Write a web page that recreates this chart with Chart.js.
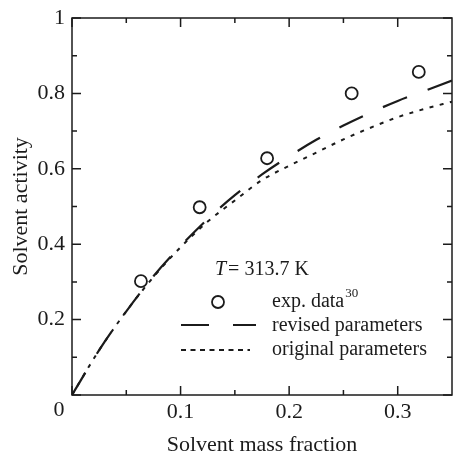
<!DOCTYPE html>
<html>
<head>
<meta charset="utf-8">
<title>Solvent activity</title>
<script src="https://cdn.jsdelivr.net/npm/chart.js@4.4.0/dist/chart.umd.min.js"></script>
<style>
  body { margin: 0; background: #fff; }
  #box { width: 453px; height: 454px; }
</style>
</head>
<body>
<div id="box"><canvas id="grafico"></canvas></div>
<script>
// curve values
var massFraction = [0, 0.025, 0.05, 0.075, 0.1, 0.125, 0.15, 0.175, 0.2, 0.225, 0.25, 0.275, 0.3, 0.325, 0.35];
var revisedActivity = [0, 0.119, 0.222, 0.315, 0.395, 0.467, 0.530, 0.585, 0.633, 0.677, 0.715, 0.749, 0.780, 0.807, 0.834];
var originalActivity = [0, 0.119, 0.222, 0.313, 0.392, 0.460, 0.516, 0.570, 0.608, 0.643, 0.678, 0.709, 0.737, 0.759, 0.778];

// experimental points
var expFraction = [0.0635, 0.1176, 0.1797, 0.2576, 0.3194];
var expActivity = [0.302, 0.498, 0.628, 0.800, 0.857];

var xTicks = [0, 0.1, 0.2, 0.3];
var xMinorTicks = [0.05, 0.15, 0.25];
var yTicks = [0, 0.2, 0.4, 0.6, 0.8, 1];
var yMinorTicks = [0.1, 0.3, 0.5, 0.7, 0.9];

var ink = '#1b1b1b';
var serif = '"Liberation Serif", "Times New Roman", serif';

Chart.defaults.font.family = serif;
Chart.defaults.color = ink;

function pontos(xs, ys) {
    return xs.map(function (x, i) { return { x: x, y: ys[i] }; });
}

// frame, inward ticks and the legend block inside the plot
var moldura = {
    id: 'moldura',
    afterDatasetsDraw: function (chart) {
        var ctx = chart.ctx;
        var a = chart.chartArea;
        var sx = chart.scales.x, sy = chart.scales.y;
        ctx.save();
        ctx.strokeStyle = ink;
        ctx.lineWidth = 1.5;
        ctx.setLineDash([]);
        ctx.strokeRect(a.left, a.top, a.right - a.left, a.bottom - a.top);

        ctx.beginPath();
        function marcaX(v, len) {
            var px = sx.getPixelForValue(v);
            ctx.moveTo(px, a.bottom); ctx.lineTo(px, a.bottom - len);
            ctx.moveTo(px, a.top); ctx.lineTo(px, a.top + len);
        }
        function marcaY(v, len) {
            var py = sy.getPixelForValue(v);
            ctx.moveTo(a.left, py); ctx.lineTo(a.left + len, py);
            ctx.moveTo(a.right, py); ctx.lineTo(a.right - len, py);
        }
        xTicks.forEach(function (v) { marcaX(v, 9); });
        xMinorTicks.forEach(function (v) { marcaX(v, 5); });
        yTicks.forEach(function (v) { marcaY(v, 9); });
        yMinorTicks.forEach(function (v) { marcaY(v, 5); });
        ctx.stroke();

        // shared zero at the corner
        ctx.fillStyle = ink;
        ctx.font = '22px ' + serif;
        ctx.textAlign = 'center';
        ctx.textBaseline = 'top';
        ctx.fillText('0', 59, 399);

        // temperature
        ctx.textAlign = 'left';
        ctx.textBaseline = 'alphabetic';
        ctx.font = 'italic 20px ' + serif;
        ctx.fillText('T', 215, 275);
        var wT = ctx.measureText('T').width;
        ctx.font = '20px ' + serif;
        ctx.fillText('= 313.7 K', 215 + wT + 2, 275);

        // legend rows
        ctx.fillText('exp. data', 272, 307);
        var wExp = ctx.measureText('exp. data').width;
        ctx.font = '13px ' + serif;
        ctx.fillText('30', 272 + wExp + 1, 297);
        ctx.font = '20px ' + serif;
        ctx.fillText('revised parameters', 272, 331);
        ctx.fillText('original parameters', 272, 355);

        ctx.lineWidth = 1.8;
        ctx.beginPath();
        ctx.arc(218, 302, 6, 0, Math.PI * 2);
        ctx.stroke();

        ctx.lineWidth = 2.2;
        ctx.setLineDash([28, 24]);
        ctx.beginPath();
        ctx.moveTo(181, 325); ctx.lineTo(256, 325);
        ctx.stroke();

        ctx.lineWidth = 2;
        ctx.setLineDash([5, 4.5]);
        ctx.beginPath();
        ctx.moveTo(181, 350); ctx.lineTo(250, 350);
        ctx.stroke();
        ctx.restore();
    }
};

function fixaTicks(lista) {
    return function (scale) {
        scale.ticks = lista.map(function (v) { return { value: v }; });
    };
}

new Chart(document.getElementById('grafico'), {
    type: 'scatter',
    data: {
        datasets: [{
            label: 'revised parameters',
            data: pontos(massFraction, revisedActivity),
            showLine: true,
            borderColor: ink,
            borderWidth: 2.2,
            borderDash: [26, 22],
            pointRadius: 0,
            cubicInterpolationMode: 'monotone'
        }, {
            label: 'original parameters',
            data: pontos(massFraction, originalActivity),
            showLine: true,
            borderColor: ink,
            borderWidth: 2,
            borderDash: [4, 6.5],
            pointRadius: 0,
            cubicInterpolationMode: 'monotone'
        }, {
            label: 'exp. data',
            data: pontos(expFraction, expActivity),
            showLine: false,
            pointStyle: 'circle',
            pointRadius: 6,
            pointBorderWidth: 1.8,
            pointBorderColor: ink,
            pointBackgroundColor: 'rgba(0,0,0,0)'
        }]
    },
    options: {
        responsive: true,
        maintainAspectRatio: false,
        animation: false,
        layout: { autoPadding: false, padding: { top: 18, right: 1, left: 0, bottom: 0 } },
        plugins: {
            legend: { display: false },
            tooltip: { enabled: false }
        },
        scales: {
            x: {
                type: 'linear',
                min: 0,
                max: 0.35,
                afterBuildTicks: fixaTicks(xTicks),
                afterFit: function (scale) {
                    scale.height = 59;
                    scale.paddingLeft = 0;
                    scale.paddingRight = 0;
                },
                border: { display: false },
                grid: { display: true, drawOnChartArea: false, drawTicks: false, color: 'rgba(0,0,0,0)' },
                ticks: {
                    padding: 4,
                    maxRotation: 0,
                    font: { size: 22 },
                    callback: function (v) { return v === 0 ? '' : String(v); }
                },
                title: {
                    display: true,
                    text: 'Solvent mass fraction',
                    font: { size: 22, lineHeight: 1 },
                    padding: { top: 0, bottom: -2 }
                }
            },
            y: {
                type: 'linear',
                min: 0,
                max: 1,
                afterBuildTicks: fixaTicks(yTicks),
                afterFit: function (scale) {
                    scale.width = 72;
                    scale.paddingTop = 0;
                    scale.paddingBottom = 0;
                },
                border: { display: false },
                grid: { display: true, drawOnChartArea: false, drawTicks: false, color: 'rgba(0,0,0,0)' },
                ticks: {
                    padding: 7,
                    font: { size: 22 },
                    callback: function (v) { return v === 0 ? '' : String(v); }
                },
                title: {
                    display: true,
                    text: 'Solvent activity',
                    font: { size: 22, lineHeight: 1 },
                    padding: { top: 10, bottom: 0 }
                }
            }
        }
    },
    plugins: [moldura]
});
</script>
</body>
</html>
